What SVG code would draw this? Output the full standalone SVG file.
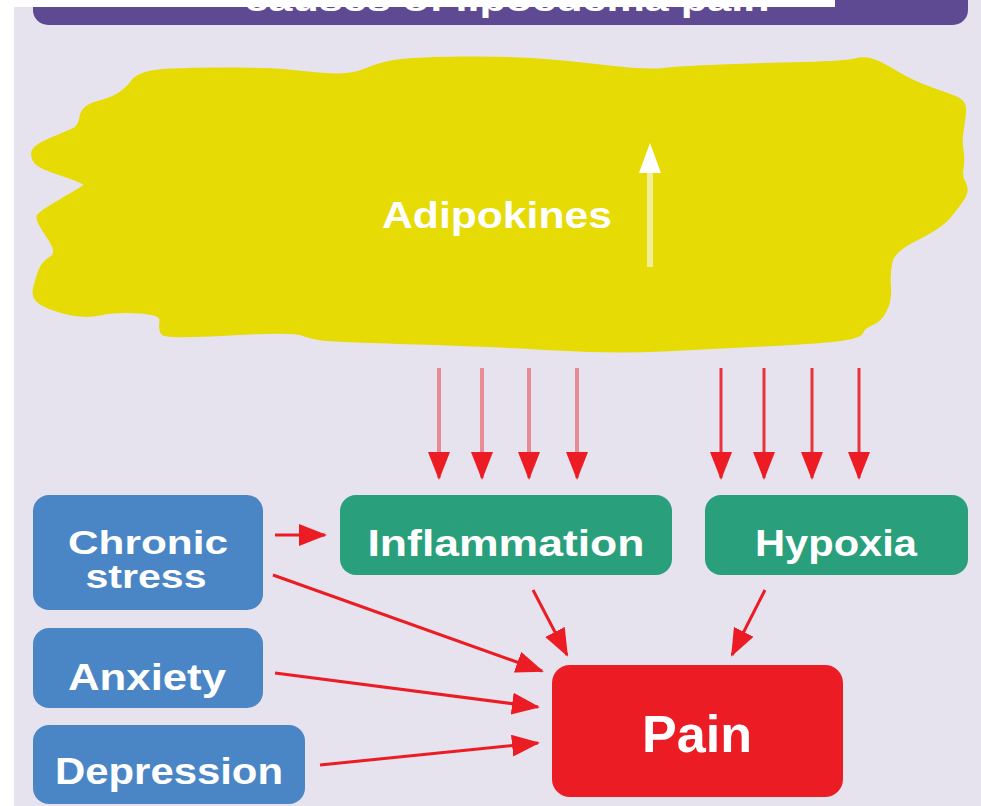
<svg xmlns="http://www.w3.org/2000/svg" width="981" height="806" viewBox="0 0 981 806">
  <style>
    .lbl { font-family: "Liberation Sans", Arial, sans-serif; font-weight: bold; fill: #ffffff; text-anchor: middle; }
    .conn { stroke: #EC1C24; stroke-width: 3; fill: none; }
    .blue { fill: #4A86C5; }
    .green { fill: #2A9F7C; }
  </style>
  <defs>
    <marker id="ah" markerUnits="userSpaceOnUse" markerWidth="28" markerHeight="22" refX="26" refY="11" orient="auto">
      <path d="M0,0 L28,11 L0,22 Z" fill="#EC1C24"/>
    </marker>
  </defs>

  <rect x="0" y="0" width="981" height="806" fill="#E6E3EF"/>

  <g id="title-bar">
    <rect x="33" y="-30" width="935" height="55" rx="15" fill="#5D4A93"/>
    <text class="lbl" x="507" y="11" font-size="32" textLength="525" lengthAdjust="spacingAndGlyphs">causes of lipoedema pain</text>
  </g>
  <rect x="0" y="0" width="835" height="7" fill="#ffffff"/>
  <rect x="0" y="0" width="14" height="806" fill="#ffffff"/>

  <g id="adipokines">
    <path d="M170,70.5 Q200,69 238.5,69.5 Q277,70 288.5,71.5 Q300,73 325,75 Q350,77 366.5,70 Q383,63 401.5,61 Q420,59 460,58.5 Q500,58 531.5,60 Q563,62 605,67 Q647,72 663.5,70 Q680,68 720,66.5 Q760,65 803.5,64 Q847,63 855,60.5 Q863,58 871.5,60.5 Q880,63 896.5,73 Q913,83 933,90 Q953,97 959,100 Q965,103 964,113 Q963,123 961.5,131.5 Q960,140 961.5,150 Q963,160 961.5,168.5 Q960,177 964,183.5 Q968,190 962.5,198.5 Q957,207 948.5,217 Q940,227 916.5,238.5 Q893,250 890.5,261.5 Q888,273 889,286.5 Q890,300 885,310 Q880,320 871.5,323.5 Q863,327 861.5,332 Q860,337 836.5,339.5 Q813,342 763,344.5 Q713,347 663,349.5 Q613,352 556.5,348.5 Q500,345 416.5,342.5 Q333,340 321.5,338.5 Q310,337 301.5,333.5 Q293,330 230,333.5 Q167,337 163.5,333.5 Q160,330 161.5,321.5 Q163,313 140,311.5 Q117,310 100,313.5 Q83,317 65,312 Q47,307 40,302 Q33,297 35,288.5 Q37,280 40,271.5 Q43,263 51.5,258 Q60,253 48.5,236.5 Q37,220 38.5,216.5 Q40,213 60,201.5 Q80,190 85,186.5 Q90,183 66.5,175.5 Q43,168 38,164 Q33,160 33,153.5 Q33,147 50,140 Q67,133 73.5,130 Q80,127 81.5,117 Q83,107 96.5,103.5 Q110,100 118.5,95 Q127,90 133.5,81 Q140,72 170,70.5 Z" fill="#E6DB05" stroke="#E6DB05" stroke-width="4" stroke-linejoin="round"/>
    <text class="lbl" x="497" y="228" font-size="36" textLength="230" lengthAdjust="spacingAndGlyphs">Adipokines</text>
    <line x1="650" y1="267" x2="650" y2="170" stroke="#F2EE9A" stroke-width="6"/>
    <path d="M650,143 L661,173 L639,173 Z" fill="#ffffff"/>
  </g>

  <g id="chronic-stress">
    <rect class="blue" x="33" y="495" width="230" height="115" rx="16"/>
    <text class="lbl" x="148" y="554" font-size="33" textLength="160" lengthAdjust="spacingAndGlyphs">Chronic</text>
    <text class="lbl" x="146" y="588" font-size="33" textLength="121" lengthAdjust="spacingAndGlyphs">stress</text>
  </g>
  <g id="anxiety">
    <rect class="blue" x="33" y="628" width="230" height="80" rx="16"/>
    <text class="lbl" x="147" y="690" font-size="37" textLength="158" lengthAdjust="spacingAndGlyphs">Anxiety</text>
  </g>
  <g id="depression">
    <rect class="blue" x="33" y="725" width="272" height="79" rx="16"/>
    <text class="lbl" x="169" y="784" font-size="37" textLength="228" lengthAdjust="spacingAndGlyphs">Depression</text>
  </g>
  <g id="inflammation">
    <rect class="green" x="340" y="495" width="332" height="80" rx="16"/>
    <text class="lbl" x="506" y="556" font-size="37" textLength="277" lengthAdjust="spacingAndGlyphs">Inflammation</text>
  </g>
  <g id="hypoxia">
    <rect class="green" x="705" y="495" width="263" height="80" rx="16"/>
    <text class="lbl" x="836" y="556" font-size="37" textLength="162" lengthAdjust="spacingAndGlyphs">Hypoxia</text>
  </g>
  <g id="pain">
    <rect x="552" y="665" width="291" height="132" rx="18" fill="#EC1C24"/>
    <text class="lbl" x="697" y="752" font-size="52" textLength="110" lengthAdjust="spacingAndGlyphs">Pain</text>
  </g>

  <g id="connectors">
    <line x1="439" y1="368" x2="439" y2="478" stroke="#E98A97" stroke-width="4" marker-end="url(#ah)"/>
    <line x1="482" y1="368" x2="482" y2="478" stroke="#E98A97" stroke-width="4" marker-end="url(#ah)"/>
    <line x1="529" y1="368" x2="529" y2="478" stroke="#E98A97" stroke-width="4" marker-end="url(#ah)"/>
    <line x1="577" y1="368" x2="577" y2="478" stroke="#E98A97" stroke-width="4" marker-end="url(#ah)"/>
    <line x1="721" y1="368" x2="721" y2="478" stroke="#E8323C" stroke-width="3" marker-end="url(#ah)"/>
    <line x1="764" y1="368" x2="764" y2="478" stroke="#E8323C" stroke-width="3" marker-end="url(#ah)"/>
    <line x1="812" y1="368" x2="812" y2="478" stroke="#E8323C" stroke-width="3" marker-end="url(#ah)"/>
    <line x1="859" y1="368" x2="859" y2="478" stroke="#E8323C" stroke-width="3" marker-end="url(#ah)"/>

    <line class="conn" x1="275" y1="535" x2="325" y2="535" marker-end="url(#ah)"/>
    <line class="conn" x1="273" y1="575" x2="542" y2="671" marker-end="url(#ah)"/>
    <line class="conn" x1="275" y1="673" x2="538" y2="707" marker-end="url(#ah)"/>
    <line class="conn" x1="320" y1="765" x2="538" y2="743" marker-end="url(#ah)"/>
    <line class="conn" x1="533" y1="590" x2="567" y2="655" marker-end="url(#ah)"/>
    <line class="conn" x1="765" y1="590" x2="732" y2="655" marker-end="url(#ah)"/>
  </g>
</svg>
